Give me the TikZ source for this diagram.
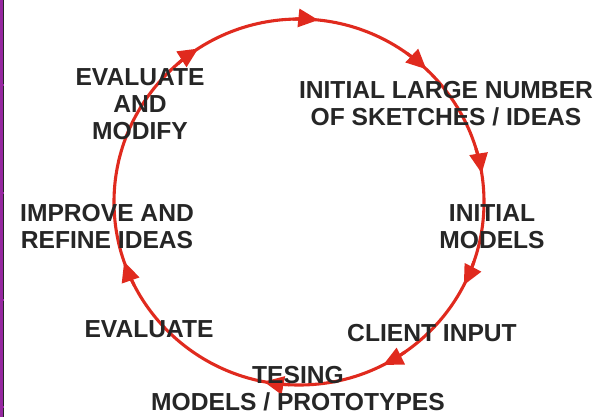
\documentclass[tikz,border=0pt]{standalone}
\usepackage{fontspec}
\setmainfont{Liberation Sans}
\usetikzlibrary{arrows.meta}
\definecolor{cyclered}{RGB}{224,42,30}
\definecolor{labelgray}{RGB}{38,38,38}
\definecolor{edgepurple}{RGB}{150,40,160}
\tikzset{
    cyc/.style={cyclered, line width=2.2pt},
    stage/.style={font=\bfseries\fontsize{17.5}{19.1}\selectfont, text=labelgray, align=center, inner sep=0pt}
}
\begin{document}
\begin{tikzpicture}[x=0.025cm, y=0.025cm]
    \useasboundingbox (-299,-215) rectangle (303,202);
    % strip on the left edge with its small ticks
    \fill[edgepurple] (-299,-215) rectangle (-296,202);
    \fill[black!85] (-296,-215) rectangle (-294.5,202);
    \foreach \y in {117,9,-98,-205}
        \fill[edgepurple] (-299,\y-0.7) rectangle (-294.5,\y+0.7);
    % the design cycle, running clockwise
    \draw[cyc] (0,0) ellipse[x radius=185, y radius=183];
    \foreach \a in {84,46.5,9,-27,-63,-101,-161,123}
        \draw[cyc, -{Triangle[length=0.5cm, width=0.45cm]}]
            (\a+8:185 and 183) arc[start angle=\a+8, end angle=\a, x radius=185, y radius=183];
    % stages
    \node[stage] (EM) at (-159,98) {EVALUATE\\AND\\MODIFY};
    \node[stage] (SK) at (147,98) {INITIAL LARGE NUMBER\\OF SKETCHES / IDEAS};
    \node[stage] (IR) at (-192,-24.5) {IMPROVE AND\\REFINE IDEAS};
    \node[stage] (IM) at (193,-24.5) {INITIAL\\MODELS};
    \node[stage] (EV) at (-150,-127) {EVALUATE};
    \node[stage] (CI) at (133,-131) {CLIENT INPUT};
    \node[stage] (TP) at (-1,-186.5) {TESING\\MODELS / PROTOTYPES};
\end{tikzpicture}
\end{document}
